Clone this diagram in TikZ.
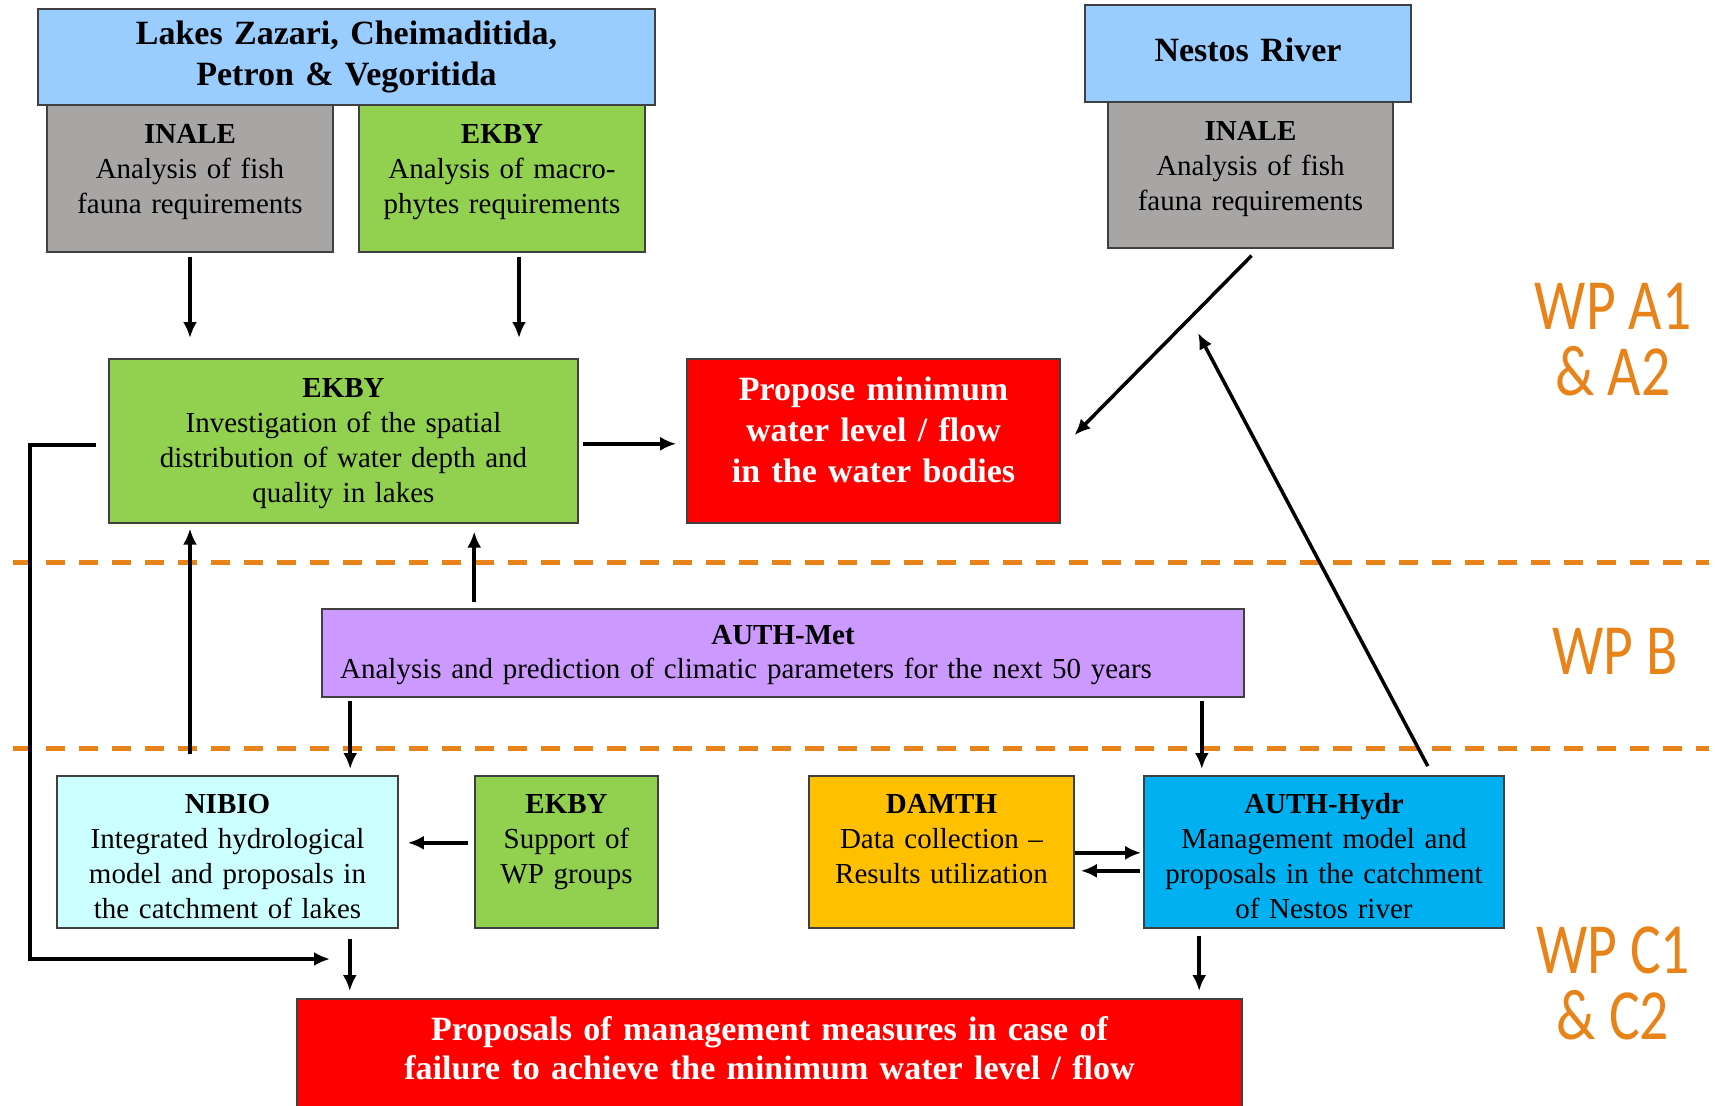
\documentclass[tikz,border=0pt]{standalone}
\usepackage{fontspec}
\setmainfont{Liberation Serif}
\newfontfamily\wpfont[FakeStretch=0.8]{Carlito}
\usetikzlibrary{arrows.meta,calc}

\definecolor{lakeblue}{RGB}{153,204,255}
\definecolor{inalegray}{RGB}{168,165,165}
\definecolor{ekbygreen}{RGB}{146,208,80}
\definecolor{metpurple}{RGB}{204,153,255}
\definecolor{nibiocyan}{RGB}{204,255,255}
\definecolor{damthorange}{RGB}{255,192,0}
\definecolor{hydrblue}{RGB}{0,176,240}
\definecolor{wporange}{RGB}{232,131,26}

\newcommand{\txt}{\fontsize{29}{35}\selectfont}
\newcommand{\bigtxt}{\fontsize{34}{41}\selectfont\bfseries}

\begin{document}
\begin{tikzpicture}[x=1pt, y=-1pt, >={Latex[length=16pt,width=14pt]},
  box/.style n args={3}{draw=black!75, line width=1.6pt, anchor=north,
    inner sep=0pt, align=center, minimum width=#1, text width=#1,
    text height=#2, text depth=#3},
  arr/.style={->, line width=3.5pt},
  wpline/.style={draw=wporange, line width=5pt, dash pattern=on 19pt off 14pt},
  wplabel/.style={text=wporange, align=center, font=\wpfont\fontsize{72}{66}\selectfont}]
  \path[use as bounding box, fill=white] (0,0) rectangle (1723,1105);

  \foreach \y in {562,748}
    \draw[wpline] (13,\y) -- (1709,\y);

  \node[box={617pt}{36pt}{60pt}, fill=lakeblue, font=\bigtxt] (lakes) at (346.5,8)
    {Lakes Zazari, Cheimaditida,\\Petron \& Vegoritida};
  \node[box={286pt}{39pt}{108pt}, fill=inalegray, font=\txt] (inaleL) at (190,104)
    {\textbf{INALE}\\Analysis of fish\\fauna requirements};
  \node[box={286pt}{39pt}{108pt}, fill=ekbygreen, font=\txt] (ekbyA) at (502,104)
    {\textbf{EKBY}\\Analysis of macro-\\phytes requirements};

  \node[box={326pt}{57pt}{40pt}, fill=lakeblue, font=\bigtxt] (nestos) at (1248,4)
    {Nestos River};
  \node[box={285pt}{39pt}{107pt}, fill=inalegray, font=\txt] (inaleR) at (1250.5,101)
    {\textbf{INALE}\\Analysis of fish\\fauna requirements};

  \node[box={469pt}{39pt}{125pt}, fill=ekbygreen, font=\txt] (ekbyB) at (343.5,358)
    {\textbf{EKBY}\\Investigation of the spatial\\distribution of water depth and\\quality in lakes};
  \node[box={373pt}{42pt}{122pt}, fill=red, text=white, font=\bigtxt] (propose) at (873.5,358)
    {Propose minimum\\water level / flow\\in the water bodies};

  \node[box={922pt}{36pt}{52pt}, fill=metpurple, font=\fontsize{29}{34}\selectfont] (met) at (783,608)
    {\textbf{AUTH-Met}\\\hspace*{-74pt}Analysis and prediction of climatic parameters for the next 50 years};

  \node[box={341pt}{38pt}{114pt}, fill=nibiocyan, font=\txt] (nibio) at (227.5,775)
    {\textbf{NIBIO}\\Integrated hydrological\\model and proposals in\\the catchment of lakes};
  \node[box={183pt}{38pt}{114pt}, fill=ekbygreen, font=\txt] (ekbyC) at (566.5,775)
    {\textbf{EKBY}\\Support of\\WP groups};
  \node[box={265pt}{38pt}{114pt}, fill=damthorange, font=\txt] (damth) at (941.5,775)
    {\textbf{DAMTH}\\Data collection --\\Results utilization};
  \node[box={360pt}{38pt}{114pt}, fill=hydrblue, font=\txt] (hydr) at (1324,775)
    {\textbf{AUTH-Hydr}\\Management model and\\proposals in the catchment\\of Nestos river};

  \node[box={945pt}{42pt}{80pt}, fill=red, text=white, font=\fontsize{34}{39}\selectfont\bfseries] (measures) at (769.5,998)
    {Proposals of management measures in case of\\failure to achieve the minimum water level / flow};

  \node[wplabel] (wpA) at (1613,340) {WP A1\\\& A2};
  \node[wplabel] (wpB) at (1615,651) {WP B};
  \node[wplabel] (wpC) at (1613,983) {WP C1\\\& C2};

  \coordinate (hydrtip) at (1198,333);
  \coordinate (loopend) at (330,959);

  \draw[arr, shorten <=4pt, shorten >=20pt] (inaleL.south) -- (inaleL.south |- ekbyB.north);
  \draw[arr, shorten <=4pt, shorten >=20pt] ([xshift=17pt]ekbyA.south) -- ([xshift=17pt]ekbyA.south |- ekbyB.north);
  \draw[arr, shorten <=4pt, shorten >=10pt] ([yshift=-3pt]ekbyB.east) -- ([yshift=-3pt]propose.west);
  \draw[arr, shorten <=10pt, shorten >=8pt] ([xshift=8pt]inaleR.south) -- ([xshift=8pt]propose.east);
  \draw[arr, shorten <=10pt] ($(hydr.north west)!0.8!(hydr.north east)$) -- (hydrtip);

  \draw[arr, shorten <=6pt, shorten >=8pt] ([xshift=153pt]met.north west) -- ([xshift=153pt]met.north west |- ekbyB.south);
  \draw[arr, shorten <=21pt, shorten >=5pt] (inaleL.south |- nibio.north) -- (inaleL.south |- ekbyB.south);
  \draw[arr] ([xshift=-12pt,yshift=-4pt]ekbyB.west) -- ++(-66,0) |- (loopend);

  \draw[arr, shorten <=3pt, shorten >=6pt] ([xshift=29pt]met.south west) -- ([xshift=29pt]met.south west |- nibio.north);
  \draw[arr, shorten <=3pt, shorten >=6pt] ([xshift=-43pt]met.south east) -- ([xshift=-43pt]met.south east |- hydr.north);

  \draw[arr, shorten <=6pt, shorten >=9pt] ([yshift=9pt]ekbyC.west) -- ([yshift=9pt]nibio.east);
  \draw[arr, shorten >=2pt] ([yshift=-1pt]damth.east) -- ([yshift=-1pt]hydr.west);
  \draw[arr, shorten <=3pt, shorten >=6pt] ([yshift=-19pt]hydr.west) -- ([yshift=-19pt]damth.east);

  \draw[arr, shorten <=10pt, shorten >=7pt] ([xshift=-49pt]nibio.south east) -- ([xshift=-49pt]nibio.south east |- measures.north);
  \draw[arr, shorten <=7pt, shorten >=7pt] ([xshift=56pt]hydr.south west) -- ([xshift=56pt]hydr.south west |- measures.north);
\end{tikzpicture}
\end{document}
